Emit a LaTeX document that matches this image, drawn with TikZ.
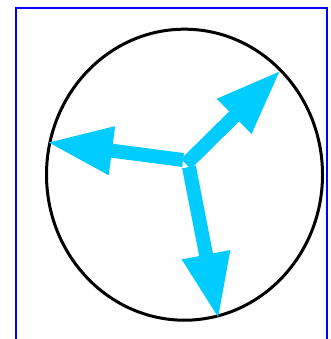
\documentclass[tikz,border=0pt]{standalone}
\usetikzlibrary{arrows.meta}
\definecolor{arrowcyan}{RGB}{0,204,255}
\begin{document}
\begin{tikzpicture}[x=1pt,y=-1pt,
  fatarrow/.style={draw=arrowcyan,line width=14pt,-{Triangle[length=66pt,width=45pt]},arrowcyan}]
\useasboundingbox (0,0) rectangle (330,339);
\draw[blue,line width=2pt] (16,345) -- (16,8) -- (327,8) -- (327,345);
\draw[black,line width=3pt] (184.5,174.7) ellipse [x radius=138, y radius=145.5];
\coordinate (c1) at (183,160);
\coordinate (t1) at (46.5,142.2);
\coordinate (c2) at (186,164);
\coordinate (t2) at (281,70);
\coordinate (c3) at (189,167);
\coordinate (t3) at (218.6,319.5);
\draw[fatarrow] (c1) -- (t1);
\draw[fatarrow] (c2) -- (t2);
\draw[fatarrow] (c3) -- (t3);
\end{tikzpicture}
\end{document}
